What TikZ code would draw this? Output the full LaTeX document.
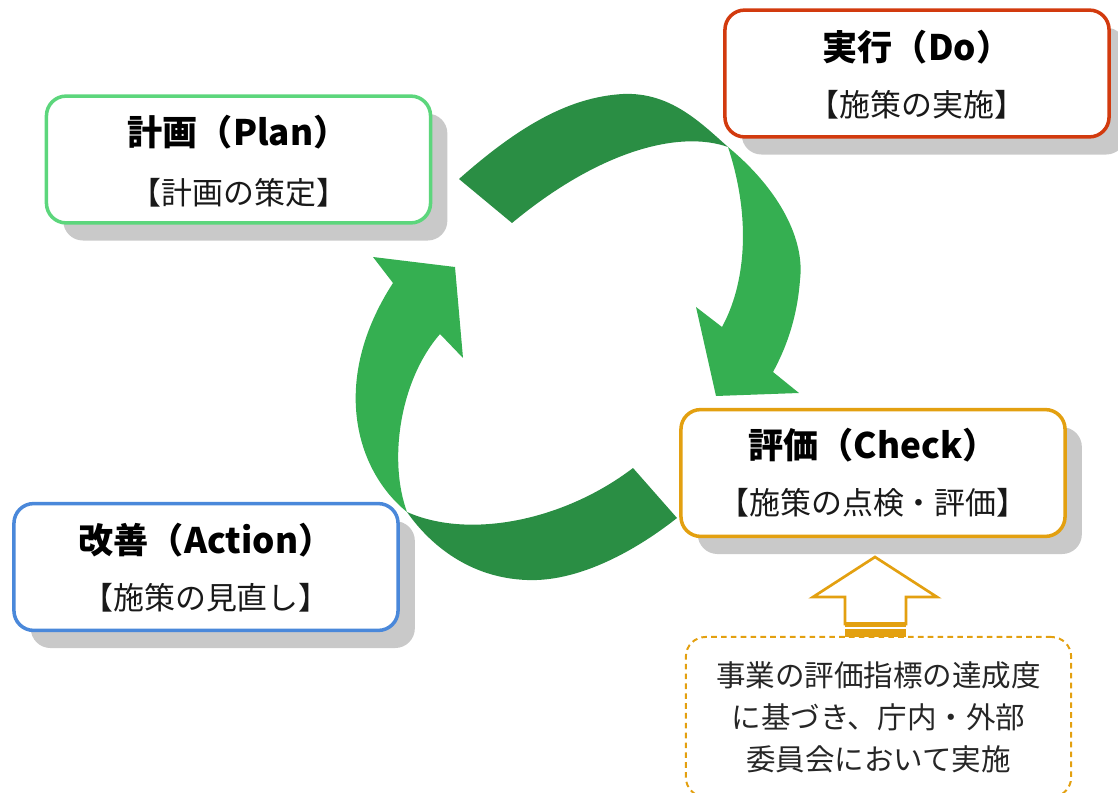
\documentclass[tikz,border=0pt]{standalone}
\usepackage{fontspec}
\setmainfont{Noto Sans CJK JP}
\usetikzlibrary{shadows}

\definecolor{plangreen}{HTML}{5CD67C}
\definecolor{dored}{HTML}{D23A0E}
\definecolor{checkamber}{HTML}{E3A010}
\definecolor{actblue}{HTML}{4A88DA}
\definecolor{shadowgray}{HTML}{C9C9C9}
\definecolor{darkgreen}{HTML}{2A8E44}
\definecolor{lightgreen}{HTML}{35AF51}

\tikzset{
  phase/.style={draw=#1, line width=2.5pt, fill=white, rounded corners=14pt,
    minimum width=9.6cm, minimum height=3.17cm,
    drop shadow={shadow xshift=0.42cm, shadow yshift=-0.44cm,
      fill=shadowgray, opacity=1}},
  ttl/.style={font=\fontsize{25}{30}\selectfont\bfseries, inner sep=0pt},
  sub/.style={font=\fontsize{22}{26}\selectfont, text=black!90, inner sep=0pt},
  note/.style={draw=checkamber, line width=1.4pt, dash pattern=on 4pt off 3pt,
    rounded corners=14pt, minimum width=9.63cm, minimum height=4.0cm,
    align=center, font=\fontsize{21}{30}\selectfont, text=black!85},
}

\begin{document}
\begin{tikzpicture}[x=0.025cm,y=-0.025cm]
  \useasboundingbox (0,0) rectangle (1118,793);
  \clip (0,0) rectangle (1118,793);
  \coordinate (X1) at (728,147);
  \coordinate (X2) at (407,512);
  % upper arrow: Plan -> Do -> Check
  \fill[darkgreen] (459,179) .. controls (520,125) and (570,97) .. (623,94)
    .. controls (670,92) and (700,122) .. (X1)
    .. controls (680,130) and (600,150) .. (512,223) -- cycle;
  \fill[lightgreen] (X1) .. controls (780,190) and (805,240) .. (800,280)
    .. controls (797,320) and (785,350) .. (773,372)
    -- (799,393) -- (716,396) -- (696,307) -- (722,327)
    .. controls (745,285) and (752,220) .. (X1) -- cycle;
  % lower arrow: Check -> Action -> Plan
  \fill[darkgreen] (633,468) .. controls (565,520) and (470,540) .. (X2)
    .. controls (430,545) and (470,578) .. (527,580)
    .. controls (575,582) and (630,555) .. (677,518) -- cycle;
  \fill[lightgreen] (X2) .. controls (355,470) and (330,380) .. (393,283)
    -- (373,257) -- (455,267) -- (463,358) -- (440,334)
    .. controls (400,380) and (388,460) .. (X2) -- cycle;
  % phase boxes
  \node[phase=plangreen] (plan) at (238.5,159.5) {};
  \node[ttl] (plant) at (238,132) {計画（Plan）};
  \node[sub] (plans) at (239,193) {【計画の策定】};
  \node[phase=dored] (do) at (917,73.5) {};
  \node[ttl] (dot) at (917,47) {実行（Do）};
  \node[sub] (dos) at (917,105) {【施策の実施】};
  \node[phase=checkamber] (check) at (873,473) {};
  \node[ttl] (checkt) at (873,445) {評価（Check）};
  \node[sub] (checks) at (873,503) {【施策の点検・評価】};
  \node[phase=actblue] (act) at (206,567) {};
  \node[ttl] (actt) at (206,540) {改善（Action）};
  \node[sub] (acts) at (206,598) {【施策の見直し】};
  % evaluation note
  \node[note] (memo) at (878.5,717) {事業の評価指標の達成度\\に基づき、庁内・外部\\委員会において実施};
  \draw[checkamber, line width=1.9pt, fill=white, line join=miter]
    (845,624) -- (845,597) -- (813,597) -- (875,557) -- (937,597) -- (906,597) -- (906,624) -- cycle;
  \fill[checkamber] (845,621.5) rectangle (906,626.5);
  \fill[checkamber] (845,629) rectangle (906,637);
\end{tikzpicture}
\end{document}
